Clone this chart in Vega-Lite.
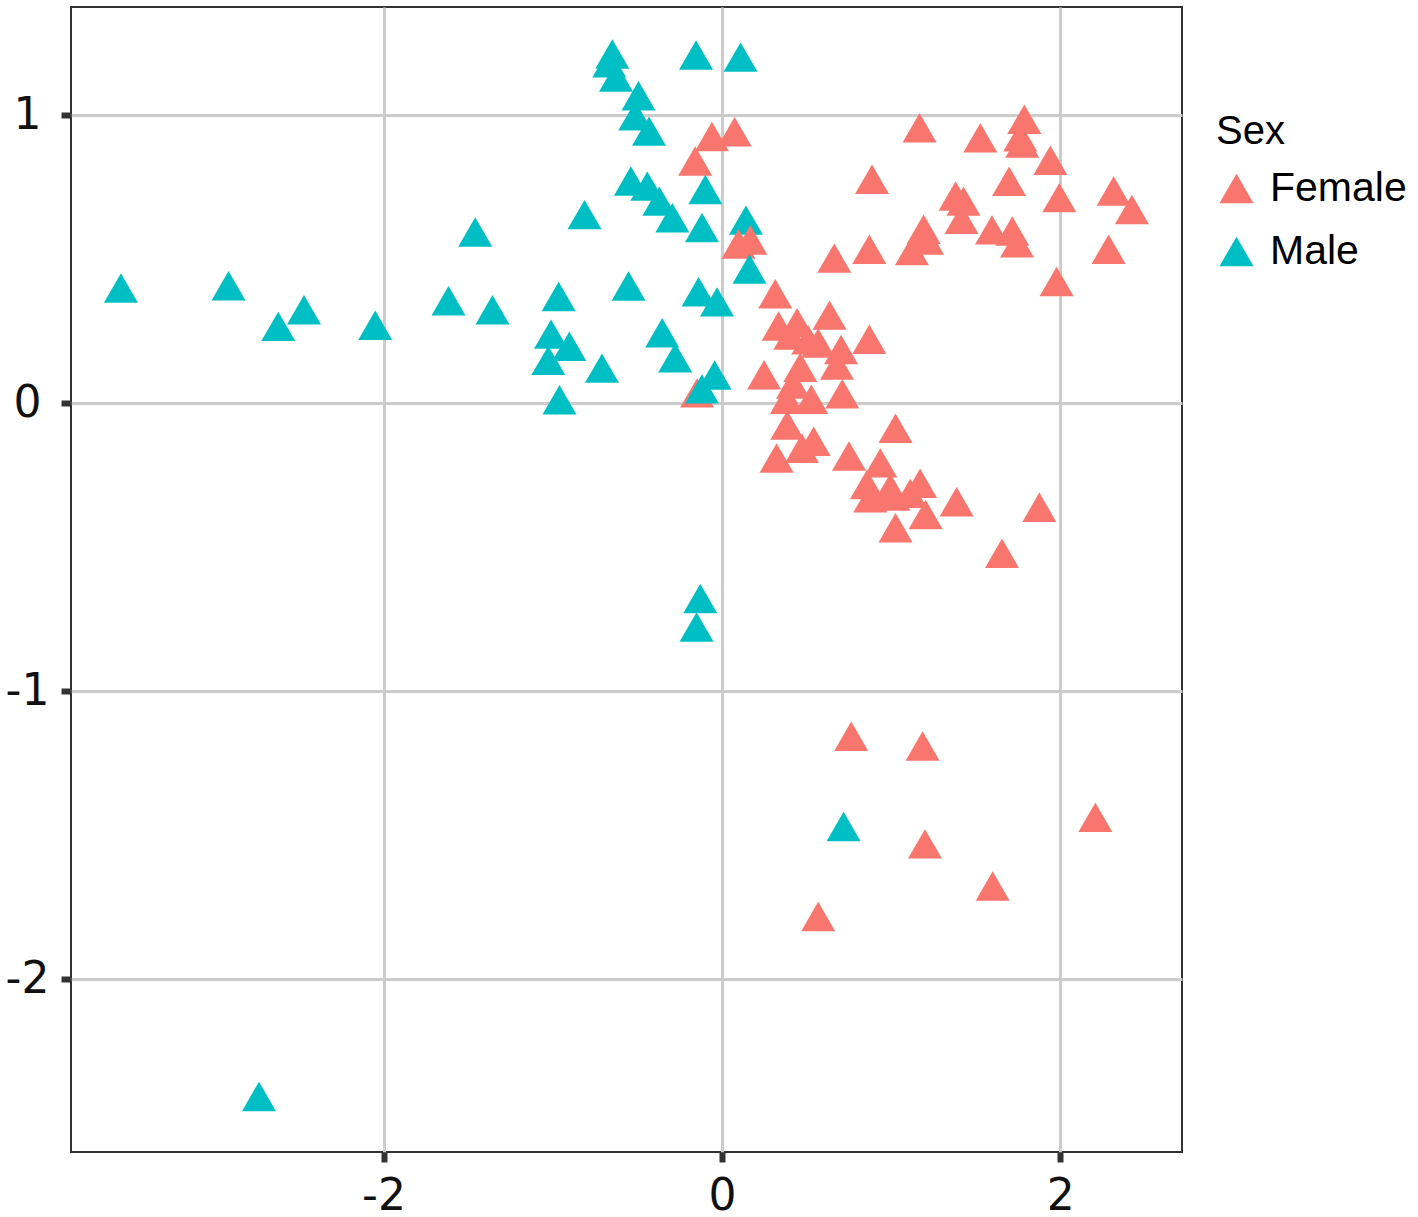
{
  "$schema": "https://vega.github.io/schema/vega-lite/v6.json",
  "width": 1111,
  "height": 1145,
  "autosize": "none",
  "padding": {"left": 71, "top": 7, "right": 236, "bottom": 65},
  "background": "white",
  "data": {
    "values": [
      {"x": -0.059, "y": 0.926, "Sex": "Female"},
      {"x": 0.075, "y": 0.943, "Sex": "Female"},
      {"x": -0.158, "y": 0.841, "Sex": "Female"},
      {"x": -0.147, "y": 0.036, "Sex": "Female"},
      {"x": 0.315, "y": 0.380, "Sex": "Female"},
      {"x": 0.335, "y": 0.268, "Sex": "Female"},
      {"x": 0.444, "y": 0.280, "Sex": "Female"},
      {"x": 0.636, "y": 0.306, "Sex": "Female"},
      {"x": 0.404, "y": 0.237, "Sex": "Female"},
      {"x": 0.510, "y": 0.220, "Sex": "Female"},
      {"x": 0.569, "y": 0.209, "Sex": "Female"},
      {"x": 0.871, "y": 0.222, "Sex": "Female"},
      {"x": 0.704, "y": 0.187, "Sex": "Female"},
      {"x": 0.680, "y": 0.133, "Sex": "Female"},
      {"x": 0.249, "y": 0.099, "Sex": "Female"},
      {"x": 0.463, "y": 0.125, "Sex": "Female"},
      {"x": 0.420, "y": 0.067, "Sex": "Female"},
      {"x": 0.384, "y": 0.014, "Sex": "Female"},
      {"x": 0.528, "y": 0.014, "Sex": "Female"},
      {"x": 0.711, "y": 0.033, "Sex": "Female"},
      {"x": 0.386, "y": -0.076, "Sex": "Female"},
      {"x": 0.542, "y": -0.132, "Sex": "Female"},
      {"x": 0.473, "y": -0.156, "Sex": "Female"},
      {"x": 0.323, "y": -0.190, "Sex": "Female"},
      {"x": 0.751, "y": -0.183, "Sex": "Female"},
      {"x": 0.936, "y": -0.207, "Sex": "Female"},
      {"x": 1.026, "y": -0.087, "Sex": "Female"},
      {"x": 0.857, "y": -0.282, "Sex": "Female"},
      {"x": 0.995, "y": -0.294, "Sex": "Female"},
      {"x": 0.877, "y": -0.328, "Sex": "Female"},
      {"x": 1.014, "y": -0.322, "Sex": "Female"},
      {"x": 1.113, "y": -0.313, "Sex": "Female"},
      {"x": 1.171, "y": -0.278, "Sex": "Female"},
      {"x": 1.204, "y": -0.386, "Sex": "Female"},
      {"x": 1.387, "y": -0.342, "Sex": "Female"},
      {"x": 1.026, "y": -0.432, "Sex": "Female"},
      {"x": 1.876, "y": -0.361, "Sex": "Female"},
      {"x": 1.655, "y": -0.521, "Sex": "Female"},
      {"x": 0.664, "y": 0.504, "Sex": "Female"},
      {"x": 0.871, "y": 0.535, "Sex": "Female"},
      {"x": 1.168, "y": 0.957, "Sex": "Female"},
      {"x": 1.527, "y": 0.922, "Sex": "Female"},
      {"x": 1.787, "y": 0.986, "Sex": "Female"},
      {"x": 1.763, "y": 0.925, "Sex": "Female"},
      {"x": 1.775, "y": 0.904, "Sex": "Female"},
      {"x": 1.941, "y": 0.844, "Sex": "Female"},
      {"x": 0.887, "y": 0.778, "Sex": "Female"},
      {"x": 1.697, "y": 0.771, "Sex": "Female"},
      {"x": 1.994, "y": 0.714, "Sex": "Female"},
      {"x": 2.315, "y": 0.737, "Sex": "Female"},
      {"x": 2.423, "y": 0.673, "Sex": "Female"},
      {"x": 1.381, "y": 0.720, "Sex": "Female"},
      {"x": 1.428, "y": 0.702, "Sex": "Female"},
      {"x": 1.416, "y": 0.639, "Sex": "Female"},
      {"x": 1.596, "y": 0.602, "Sex": "Female"},
      {"x": 1.716, "y": 0.598, "Sex": "Female"},
      {"x": 1.744, "y": 0.557, "Sex": "Female"},
      {"x": 1.192, "y": 0.604, "Sex": "Female"},
      {"x": 1.212, "y": 0.567, "Sex": "Female"},
      {"x": 1.123, "y": 0.530, "Sex": "Female"},
      {"x": 2.285, "y": 0.535, "Sex": "Female"},
      {"x": 1.978, "y": 0.423, "Sex": "Female"},
      {"x": 0.764, "y": -1.156, "Sex": "Female"},
      {"x": 1.186, "y": -1.190, "Sex": "Female"},
      {"x": 1.200, "y": -1.530, "Sex": "Female"},
      {"x": 2.207, "y": -1.438, "Sex": "Female"},
      {"x": 1.600, "y": -1.676, "Sex": "Female"},
      {"x": 0.569, "y": -1.782, "Sex": "Female"},
      {"x": -3.552, "y": 0.400, "Sex": "Male"},
      {"x": -2.916, "y": 0.408, "Sex": "Male"},
      {"x": -2.622, "y": 0.267, "Sex": "Male"},
      {"x": -2.470, "y": 0.325, "Sex": "Male"},
      {"x": -2.049, "y": 0.271, "Sex": "Male"},
      {"x": -2.736, "y": -2.407, "Sex": "Male"},
      {"x": -1.616, "y": 0.356, "Sex": "Male"},
      {"x": -1.458, "y": 0.595, "Sex": "Male"},
      {"x": -1.356, "y": 0.325, "Sex": "Male"},
      {"x": -0.965, "y": 0.371, "Sex": "Male"},
      {"x": -1.010, "y": 0.240, "Sex": "Male"},
      {"x": -0.902, "y": 0.198, "Sex": "Male"},
      {"x": -1.026, "y": 0.149, "Sex": "Male"},
      {"x": -0.960, "y": 0.012, "Sex": "Male"},
      {"x": -0.709, "y": 0.122, "Sex": "Male"},
      {"x": -0.812, "y": 0.655, "Sex": "Male"},
      {"x": -0.552, "y": 0.407, "Sex": "Male"},
      {"x": -0.648, "y": 1.213, "Sex": "Male"},
      {"x": -0.666, "y": 1.182, "Sex": "Male"},
      {"x": -0.626, "y": 1.133, "Sex": "Male"},
      {"x": -0.493, "y": 1.068, "Sex": "Male"},
      {"x": -0.512, "y": 0.998, "Sex": "Male"},
      {"x": -0.431, "y": 0.945, "Sex": "Male"},
      {"x": -0.153, "y": 1.209, "Sex": "Male"},
      {"x": 0.110, "y": 1.202, "Sex": "Male"},
      {"x": -0.538, "y": 0.772, "Sex": "Male"},
      {"x": -0.441, "y": 0.754, "Sex": "Male"},
      {"x": -0.370, "y": 0.702, "Sex": "Male"},
      {"x": -0.293, "y": 0.644, "Sex": "Male"},
      {"x": -0.098, "y": 0.742, "Sex": "Male"},
      {"x": -0.118, "y": 0.610, "Sex": "Male"},
      {"x": 0.142, "y": 0.636, "Sex": "Male"},
      {"x": -0.138, "y": 0.387, "Sex": "Male"},
      {"x": -0.029, "y": 0.352, "Sex": "Male"},
      {"x": -0.353, "y": 0.245, "Sex": "Male"},
      {"x": -0.276, "y": 0.158, "Sex": "Male"},
      {"x": -0.043, "y": 0.098, "Sex": "Male"},
      {"x": -0.118, "y": 0.050, "Sex": "Male"},
      {"x": -0.128, "y": -0.678, "Sex": "Male"},
      {"x": -0.150, "y": -0.777, "Sex": "Male"},
      {"x": 0.719, "y": -1.470, "Sex": "Male"},
      {"x": 0.098, "y": 0.553, "Sex": "Female"},
      {"x": 0.168, "y": 0.567, "Sex": "Female"},
      {"x": 0.163, "y": 0.466, "Sex": "Male"}
    ]
  },
  "mark": {"type": "point", "shape": "triangle-up", "filled": true, "opacity": 1, "size": 1156, "strokeWidth": 0},
  "encoding": {
    "x": {
      "field": "x",
      "type": "quantitative",
      "scale": {"domain": [-3.847, 2.719], "nice": false, "zero": false},
      "axis": {
        "title": null,
        "values": [-2, 0, 2],
        "labelExpr": "datum.value < 0 ? '-' + abs(datum.value) : '' + datum.value",
        "labelPadding": 12,
        "labelAlign": "center"
      }
    },
    "y": {
      "field": "y",
      "type": "quantitative",
      "scale": {"domain": [-2.6, 1.376], "nice": false, "zero": false},
      "axis": {
        "title": null,
        "values": [-2, -1, 0, 1],
        "labelExpr": "datum.value < 0 ? '-' + abs(datum.value) : '' + datum.value",
        "labelPadding": 34,
        "labelAlign": "center",
        "labelDy": 3
      }
    },
    "color": {
      "field": "Sex",
      "type": "nominal",
      "scale": {"domain": ["Female", "Male"], "range": ["#F8766D", "#00BFC4"]},
      "legend": {
        "title": "Sex",
        "orient": "none",
        "legendX": 1145,
        "legendY": 105,
        "symbolType": "triangle-up",
        "symbolSize": 1156,
        "symbolStrokeWidth": 0,
        "symbolOpacity": 1
      }
    }
  },
  "config": {
    "view": {"stroke": "#333333", "strokeWidth": 2},
    "axis": {
      "domain": false,
      "grid": true,
      "gridColor": "#cccccc",
      "gridWidth": 3,
      "ticks": true,
      "tickColor": "#333333",
      "tickSize": 10,
      "tickWidth": 6,
      "labelFont": "DejaVu Sans",
      "labelFontSize": 44,
      "labelColor": "#111111"
    },
    "legend": {
      "padding": 0,
      "titleFont": "Liberation Sans",
      "titleFontSize": 40,
      "titleFontWeight": "normal",
      "titleColor": "#000000",
      "titlePadding": 16,
      "labelFont": "Liberation Sans",
      "labelFontSize": 41,
      "labelColor": "#000000",
      "labelOffset": 13,
      "rowPadding": 21
    }
  }
}
